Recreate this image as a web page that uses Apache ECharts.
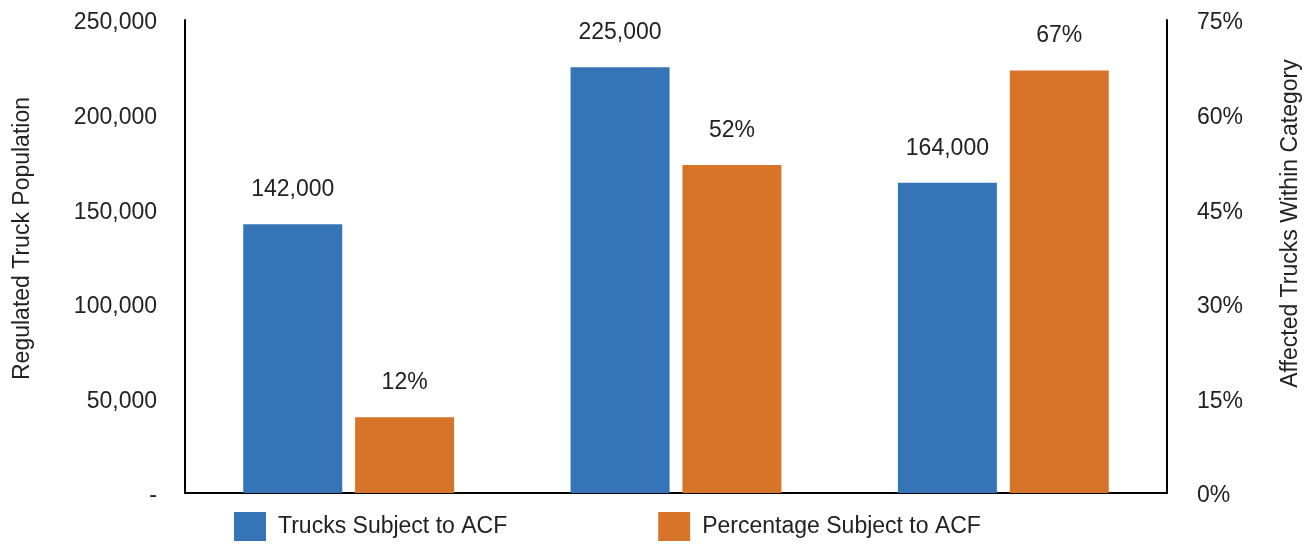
<!DOCTYPE html>
<html>
<head>
<meta charset="utf-8">
<script src="https://cdn.jsdelivr.net/npm/echarts@6/dist/echarts.min.js"></script>
<style>
html,body{margin:0;padding:0;background:#fff;}
#chart{width:1307px;height:544px;}
</style>
</head>
<body>
<div id="chart"></div>
<script>
const categories = ['Category A', 'Category B', 'Category C'];
const trucksSubject = [142000, 225000, 164000];
const percentSubject = [12, 52, 67];
const leftTicks = { min: 0, max: 250000, interval: 50000 };
const rightTicks = { min: 0, max: 75, interval: 15 };
const seriesNames = ['Trucks Subject to ACF', 'Percentage Subject to ACF'];

const FONT = '"Liberation Sans", Arial, sans-serif';
const TXT = '#222';

const chart = echarts.init(document.getElementById('chart'));
chart.setOption({
  animation: false,
  textStyle: { fontFamily: FONT },
  grid: { left: 185, right: 140, top: 20, bottom: 51, containLabel: false, outerBoundsMode: 'none' },
  legend: {
    left: 234, top: 512, padding: 0,
    itemWidth: 32, itemHeight: 29, itemGap: 151,
    icon: 'rect',
    textStyle: { fontFamily: FONT, fontSize: 23, color: TXT, padding: [2, 0, 0, 7] },
    data: seriesNames
  },
  xAxis: {
    type: 'category',
    data: categories,
    axisLine: { show: true, lineStyle: { color: '#000', width: 2 } },
    axisTick: { show: false },
    axisLabel: { show: false },
    splitLine: { show: false }
  },
  yAxis: [
    {
      type: 'value',
      position: 'left',
      min: leftTicks.min, max: leftTicks.max, interval: leftTicks.interval,
      name: 'Regulated Truck Population',
      nameLocation: 'middle', nameRotate: 90, nameGap: 151,
      nameTextStyle: { fontFamily: FONT, fontSize: 23, color: TXT, padding: [0, 0, 0, 36] },
      axisLine: { show: true, lineStyle: { color: '#000', width: 2 } },
      axisTick: { show: false },
      splitLine: { show: false },
      axisLabel: {
        margin: 28, fontFamily: FONT, fontSize: 23, color: TXT,
        verticalAlign: 'top', lineHeight: 6,
        formatter: v => v === 0 ? '-' : v.toLocaleString('en-US')
      }
    },
    {
      type: 'value',
      position: 'right',
      min: rightTicks.min, max: rightTicks.max, interval: rightTicks.interval,
      name: 'Affected Trucks Within Category',
      nameLocation: 'middle', nameRotate: 90, nameGap: 112,
      nameTextStyle: { fontFamily: FONT, fontSize: 23, color: TXT, padding: [0, 0, 0, 66] },
      axisLine: { show: true, lineStyle: { color: '#000', width: 2 } },
      axisTick: { show: false },
      splitLine: { show: false },
      axisLabel: {
        margin: 30, fontFamily: FONT, fontSize: 23, color: TXT,
        verticalAlign: 'top', lineHeight: 6,
        formatter: v => v + '%'
      }
    }
  ],
  series: [
    {
      name: seriesNames[0],
      type: 'bar',
      yAxisIndex: 0,
      data: trucksSubject,
      barWidth: 99,
      barGap: '13%',
      itemStyle: { color: '#3474B7' },
      label: {
        show: true, position: 'top', distance: 23,
        fontFamily: FONT, fontSize: 23, color: TXT,
        formatter: p => p.value.toLocaleString('en-US')
      }
    },
    {
      name: seriesNames[1],
      type: 'bar',
      yAxisIndex: 1,
      data: percentSubject,
      barWidth: 99,
      barGap: '13%',
      itemStyle: { color: '#D6752A' },
      label: {
        show: true, position: 'top', distance: 23,
        fontFamily: FONT, fontSize: 23, color: TXT,
        formatter: p => p.value + '%'
      }
    }
  ]
});
</script>
</body>
</html>
